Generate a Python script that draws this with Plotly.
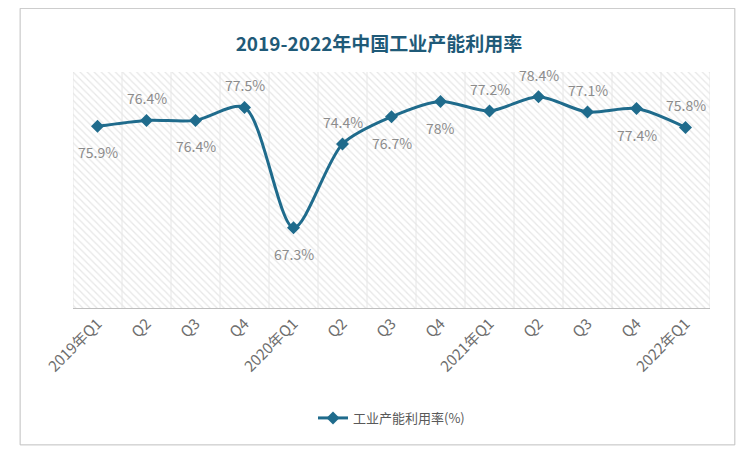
import plotly.graph_objects as go

quarters = ["2019年Q1", "Q2", "Q3", "Q4", "2020年Q1", "Q2", "Q3", "Q4",
            "2021年Q1", "Q2", "Q3", "Q4", "2022年Q1"]
rates = [75.9, 76.4, 76.4, 77.5, 67.3, 74.4, 76.7, 78.0, 77.2, 78.4, 77.1, 77.4, 75.8]
label_above = [False, True, False, True, False, True, False, False, True, True, True, False, True]
x_idx = list(range(len(quarters)))
labels = [f"{v:g}%" for v in rates]

color = "#1f6b8c"
fig = go.Figure()

# hatched plot background (base axes, drawn beneath the overlay)
fig.add_trace(go.Scatter(
    x=[0, 1, 1, 0, 0], y=[0, 0, 1, 1, 0],
    mode="lines", line=dict(width=0), fill="toself", fillcolor="white",
    fillpattern=dict(shape="\\", fgcolor="#cfcfcf", bgcolor="white", size=5, solidity=0.25),
    hoverinfo="skip", showlegend=False,
))
# vertical grid lines at category boundaries
n = len(quarters)
gx, gy = [], []
for i in range(n + 1):
    gx += [i / n, i / n, None]
    gy += [0, 1, None]
fig.add_trace(go.Scatter(x=gx, y=gy, mode="lines", line=dict(color="#e6e6e6", width=1),
                         hoverinfo="skip", showlegend=False))

fig.add_trace(go.Scatter(
    x=x_idx, y=rates, mode="lines+markers", name="工业产能利用率(%)",
    xaxis="x2", yaxis="y2",
    line=dict(color=color, width=3, shape="spline", smoothing=0.8),
    marker=dict(symbol="diamond", size=10, color=color),
))

for xi, v, t, up in zip(x_idx, rates, labels, label_above):
    fig.add_annotation(x=xi, y=v, xref="x2", yref="y2", text=t, showarrow=False,
                       yshift=22 if up else -26, font=dict(size=14, color="#8c8c8c"))

fig.update_layout(
    width=742, height=453,
    margin=dict(l=65, r=40, t=64, b=153),
    paper_bgcolor="white", plot_bgcolor="rgba(0,0,0,0)",
    font=dict(family="Noto Sans CJK SC, sans-serif"),
    title=dict(text="<b>2019-2022年中国工业产能利用率</b>", x=0.5, y=0.935, xanchor="center",
               font=dict(size=19, color="#1f5a78")),
    xaxis=dict(range=[0, 1], visible=False, fixedrange=True),
    yaxis=dict(range=[0, 1], visible=False, fixedrange=True),
    xaxis2=dict(overlaying="x", tickmode="array", tickvals=x_idx, ticktext=quarters, tickangle=-45,
                range=[-0.5, n - 0.5], showgrid=False,
                showline=True, linecolor="#bfbfbf", ticks="",
                tickfont=dict(size=15, color="#6e6e6e")),
    yaxis2=dict(overlaying="y", range=[60.5, 80.5], visible=False),
    legend=dict(orientation="h", x=0.5, xanchor="center", y=-0.466, yanchor="middle",
                font=dict(size=13, color="#595959")),
    shapes=[dict(type="rect", xref="paper", yref="paper", x0=-0.083, x1=1.039, y0=-0.58, y1=1.27,
                 line=dict(color="#bfbfbf", width=1))],
)

fig.write_html("out.html")
